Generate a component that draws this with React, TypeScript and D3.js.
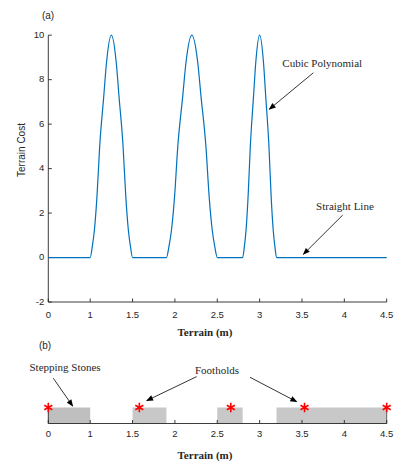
import React from 'react';
import * as d3 from 'd3';

// terrain cost curve (three cubic bumps on a flat line)
const bumpX1 = [1.0, 1.025, 1.05, 1.08, 1.112, 1.16, 1.192, 1.25, 1.308, 1.34, 1.388, 1.42, 1.45, 1.475, 1.5];
const bumpX2 = [1.9, 1.93, 1.96, 1.996, 2.034, 2.092, 2.13, 2.2, 2.27, 2.308, 2.366, 2.404, 2.44, 2.47, 2.5];
const bumpX3 = [2.8, 2.82, 2.84, 2.864, 2.89, 2.928, 2.954, 3.0, 3.046, 3.072, 3.11, 3.136, 3.16, 3.18, 3.2];
const bumpCost = [0, 0.5, 1.25, 2.75, 5.0, 7.25, 8.75, 10, 8.75, 7.25, 5.0, 2.75, 1.25, 0.5, 0];
const lineStart = 0;
const lineEnd = 4.5;

// stepping stones and footholds
const stoneStart = [0, 1.5, 2.5, 3.2];
const stoneEnd = [1, 1.9, 2.8, 4.5];
const footholds = [0, 1.58, 2.66, 3.53, 4.5];

const xTicks = [0, 1, 1.5, 2, 2.5, 3, 3.5, 4, 4.5];
const yTicks = [-2, 0, 2, 4, 6, 8, 10];

const W = 400;
const H = 461;
const axisCol = '#262626';
const sans = '"Liberation Sans", Arial, sans-serif';
const serif = '"Liberation Serif", "Times New Roman", serif';

export default function App() {
  // first tick interval is squeezed like in the original figure, so piecewise scale
  const x = d3.scaleLinear().domain([0, 1, 4.5]).range([48.3, 90.2, 386.7]);
  const y = d3.scaleLinear().domain([-2, 10]).range([302, 35.2]);
  const yb = d3.scaleLinear().domain([0, 1]).range([423.5, 407.5]);

  const pts: [number, number][] = [[lineStart, 0]];
  [bumpX1, bumpX2, bumpX3].forEach(bx => {
    bx.forEach((v, i) => pts.push([v, bumpCost[i]]));
  });
  pts.push([lineEnd, 0]);

  const line = d3.line<[number, number]>()
    .x(d => x(d[0]))
    .y(d => y(d[1]))
    .curve(d3.curveMonotoneX);

  const star = d3.symbol().type(d3.symbolAsterisk).size(60)();

  const arrow = (x1: number, y1: number, x2: number, y2: number, key: string) => (
    <line key={key} x1={x1} y1={y1} x2={x2} y2={y2} stroke="#000" strokeWidth={0.8} markerEnd="url(#head)" />
  );

  return (
    <svg width={W} height={H} style={{ position: 'absolute', left: 0, top: 0, background: '#fff' }}>
      <defs>
        <marker id="head" viewBox="0 0 10 10" refX="9" refY="5" markerWidth="9" markerHeight="7" orient="auto" markerUnits="userSpaceOnUse">
          <path d="M0,1 L10,5 L0,9 z" fill="#000" />
        </marker>
      </defs>

      {/* (a) terrain cost */}
      <text x={48} y={16.7} fontFamily={sans} fontSize={10} fill={axisCol} textAnchor="middle" dominantBaseline="middle">(a)</text>

      <line x1={x(0)} x2={x(4.5)} y1={y(-2)} y2={y(-2)} stroke={axisCol} strokeWidth={0.9} />
      <line x1={x(0)} x2={x(0)} y1={y(-2)} y2={y(10)} stroke={axisCol} strokeWidth={0.9} />
      {xTicks.map(t => (
        <g key={'xt' + t}>
          <line x1={x(t)} x2={x(t)} y1={y(-2)} y2={y(-2) - 3.5} stroke={axisCol} strokeWidth={0.9} />
          <text x={x(t)} y={y(-2) + 13.3} fontFamily={sans} fontSize={9.5} fill={axisCol} textAnchor="middle" dominantBaseline="middle">{t}</text>
        </g>
      ))}
      {yTicks.map(t => (
        <g key={'yt' + t}>
          <line x1={x(0)} x2={x(0) + 3.5} y1={y(t)} y2={y(t)} stroke={axisCol} strokeWidth={0.9} />
          <text x={x(0) - 4} y={y(t)} fontFamily={sans} fontSize={9.5} fill={axisCol} textAnchor="end" dominantBaseline="middle">{t}</text>
        </g>
      ))}
      <text transform="translate(22,150) rotate(-90)" fontFamily={sans} fontSize={10} fill={axisCol} textAnchor="middle" dominantBaseline="middle">Terrain Cost</text>
      <text x={205} y={333} fontFamily={serif} fontWeight="bold" fontSize={11} fill={axisCol} textAnchor="middle" dominantBaseline="middle">Terrain (m)</text>

      <path d={line(pts) || ''} fill="none" stroke="#0072BD" strokeWidth={1.2} />

      <text x={x(3.268)} y={y(8.7)} fontFamily={serif} fontSize={11} fill={axisCol} dominantBaseline="middle">Cubic Polynomial</text>
      {arrow(x(3.634), y(8.31), x(3.114), y(6.67), 'a1')}
      <text x={x(3.666)} y={y(2.26)} fontFamily={serif} fontSize={11} fill={axisCol} dominantBaseline="middle">Straight Line</text>
      {arrow(x(3.981), y(1.91), x(3.516), y(0.145), 'a2')}

      {/* (b) stepping stones */}
      <text x={45} y={346} fontFamily={sans} fontSize={10} fill={axisCol} textAnchor="middle" dominantBaseline="middle">(b)</text>
      {stoneStart.map((s, i) => (
        <rect key={'st' + i} x={x(s)} y={yb(1)} width={x(stoneEnd[i]) - x(s)} height={yb(0) - yb(1)} fill={i === 0 ? '#bfbfbf' : '#c8c8c8'} />
      ))}
      <line x1={x(0)} x2={x(0)} y1={yb(0)} y2={yb(1)} stroke={axisCol} strokeWidth={0.9} />
      <line x1={x(4.5)} x2={x(4.5)} y1={yb(0)} y2={yb(1)} stroke="#555" strokeWidth={0.9} />
      <line x1={x(0)} x2={x(4.5)} y1={yb(0)} y2={yb(0)} stroke={axisCol} strokeWidth={0.9} />
      {xTicks.map(t => (
        <g key={'bt' + t}>
          <line x1={x(t)} x2={x(t)} y1={yb(0)} y2={yb(0) - 3.5} stroke={axisCol} strokeWidth={0.9} />
          <text x={x(t)} y={yb(0) + 11} fontFamily={sans} fontSize={9.5} fill={axisCol} textAnchor="middle" dominantBaseline="middle">{t}</text>
        </g>
      ))}
      <text x={205} y={456.5} fontFamily={serif} fontWeight="bold" fontSize={11} fill={axisCol} textAnchor="middle" dominantBaseline="middle">Terrain (m)</text>

      {footholds.map((f, i) => (
        <path key={'fh' + i} d={star || ''} transform={`translate(${x(f)},${yb(1)})`} fill="none" stroke="#ff0000" strokeWidth={1.6} />
      ))}

      <text x={x(0.4)} y={yb(3.45)} fontFamily={serif} fontSize={11} fill={axisCol} textAnchor="middle" dominantBaseline="middle">Stepping Stones</text>
      {arrow(x(0.119), yb(2.83), x(0.582), yb(1.09), 'b1')}
      <text x={x(2.497)} y={yb(3.24)} fontFamily={serif} fontSize={11} fill={axisCol} textAnchor="middle" dominantBaseline="middle">Footholds</text>
      {arrow(x(2.257), yb(2.93), x(1.667), yb(1.43), 'b2')}
      {arrow(x(2.886), yb(2.89), x(3.438), yb(1.36), 'b3')}
    </svg>
  );
}
